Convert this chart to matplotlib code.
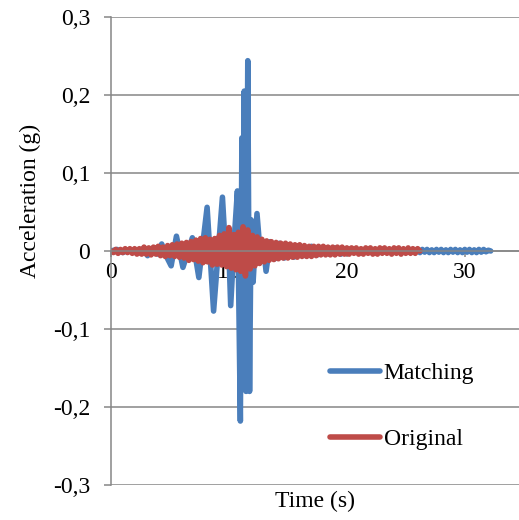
import numpy as np
import matplotlib
matplotlib.use("Agg")
import matplotlib.pyplot as plt

plt.rcParams['font.family'] = ['Liberation Serif', 'DejaVu Serif']
plt.rcParams['font.size'] = 17

# Matching record: extrema (time s, acceleration g)
blue_t = [0.0, 0.5, 1.0, 1.6, 2.2, 2.7, 3.1, 3.6, 3.95, 4.3, 4.8, 5.1, 5.55, 6.1, 6.9, 7.45,
          8.15, 8.7, 9.45, 9.75, 9.95, 10.15, 10.45, 10.72, 10.97, 11.1, 11.18, 11.3, 11.45,
          11.6, 11.75, 11.88, 12.05, 12.38, 12.7, 12.9, 13.15, 13.5, 13.9, 14.3, 14.7, 15.1,
          15.5, 16.0, 16.5, 17.0, 17.5, 18.0, 18.5, 19.0, 19.5, 20.0]
blue_a = [0.0, 0.002, -0.002, 0.002, -0.003, 0.003, -0.006, 0.004, -0.004, 0.009, -0.010, -0.019,
          0.019, -0.021, 0.017, -0.034, 0.056, -0.077, 0.069, -0.010, 0.020, -0.070, 0.015,
          0.077, -0.218, 0.145, -0.120, 0.205, -0.180, 0.244, -0.180, 0.040, -0.040, 0.048,
          -0.012, 0.010, -0.026, 0.012, -0.010, 0.010, -0.009, 0.008, -0.008, 0.007, -0.006,
          0.006, -0.005, 0.005, -0.004, 0.004, -0.004, 0.003]
# tail of the matching record, one value every 0.2 s after 20.2 s
blue_tail_a = [-0.002, 0.002, -0.0015, 0.002, -0.002, 0.0015, -0.002, 0.002, -0.0015, 0.002,
               -0.002, 0.0015, -0.002, 0.002, -0.0015, 0.002, -0.002, 0.0015, -0.002, 0.002,
               -0.0015, 0.002, -0.002, 0.0015, -0.002, 0.002, -0.0015, 0.002, -0.002, 0.0015,
               -0.002, 0.002, -0.0015, 0.002, -0.002, 0.0015, -0.002, 0.002, -0.0015, 0.002,
               -0.002, 0.0015, -0.002, 0.002, -0.0015, 0.002, -0.002, 0.0015, -0.002, 0.002,
               -0.0015, 0.002, -0.002, 0.0015, -0.002, 0.002, -0.0015, 0.002, -0.001, 0.001,
               0.0]
blue_tail_dt = 0.2

# Original record: one extremum every 0.2 s
red_dt = 0.2
red_a = [0.000, -0.002, 0.002, -0.003, 0.002, -0.002, 0.003, -0.002, 0.003, -0.003,
         0.003, -0.004, 0.003, -0.004, 0.005, -0.004, 0.004, -0.005, 0.005, -0.004,
         0.006, -0.006, 0.005, -0.007, 0.007, -0.006, 0.008, -0.007, 0.009, -0.008,
         0.010, -0.009, 0.011, -0.012, 0.012, -0.011, 0.014, -0.013, 0.016, -0.015,
         0.017, -0.014, 0.015, -0.018, 0.016, -0.017, 0.020, -0.018, 0.022, -0.020,
         0.030, -0.022, 0.021, -0.024, 0.024, -0.026, 0.031, -0.032, 0.027, -0.023,
         0.020, -0.019, 0.018, -0.016, 0.015, -0.014, 0.013, -0.012, 0.012, -0.011,
         0.011, -0.010, 0.010, -0.009, 0.010, -0.009, 0.009, -0.008, 0.008, -0.008,
         0.008, -0.007, 0.007, -0.007, 0.006, -0.007, 0.006, -0.006, 0.006, -0.005,
         0.006, -0.005, 0.005, -0.005, 0.005, -0.005, 0.005, -0.004, 0.005, -0.004,
         0.004, -0.004, 0.004, -0.003, 0.004, -0.004, 0.003, -0.004, 0.004, -0.003,
         0.004, -0.004, 0.003, -0.004, 0.004, -0.003, 0.004, -0.003, 0.003, -0.004,
         0.004, -0.003, 0.004, -0.004, 0.003, -0.003, 0.004, -0.003, 0.003, -0.003,
         0.003, 0.0]

y_ticks = [-0.3, -0.2, -0.1, 0, 0.1, 0.2, 0.3]
y_labels = ['-0,3', '-0,2', '-0,1', '0', '0,1', '0,2', '0,3']
x_ticks = [0, 10, 20, 30]

blue_time = list(blue_t) + list(blue_t[-1] + blue_tail_dt * np.arange(1, len(blue_tail_a) + 1))
blue_acc = list(blue_a) + blue_tail_a
red_time = red_dt * np.arange(len(red_a))

fig = plt.figure(figsize=(5.19, 5.20), dpi=100)
ax = fig.add_axes([111 / 519, 35 / 520, 408 / 519, 468 / 520])

grid_col = '#868686'
ax.plot(blue_time, blue_acc, color='#4A7EBB', lw=4, label='Matching',
        solid_joinstyle='round', solid_capstyle='round')
ax.plot(red_time, red_a, color='#BE4B48', lw=4, label='Original',
        solid_joinstyle='round', solid_capstyle='round')

ax.set_xlim(0, 34.6)
ax.set_ylim(-0.3, 0.3)
ax.set_yticks(y_ticks)
ax.set_yticklabels(y_labels)
ax.set_xticks(x_ticks)
ax.yaxis.grid(True, color=grid_col, lw=1.1)
ax.set_axisbelow(True)

for s in ['top', 'right']:
    ax.spines[s].set_visible(False)
ax.spines['bottom'].set_position(('data', 0))
ax.spines['bottom'].set_color(grid_col)
ax.spines['left'].set_color(grid_col)
ax.spines['bottom'].set_linewidth(1.1)
ax.spines['left'].set_linewidth(1.1)
ax.tick_params(axis='y', direction='out', length=5, color=grid_col, pad=10, width=1.1)
ax.tick_params(axis='x', direction='out', length=4, color=grid_col, pad=4, width=1.1)

ax.set_xlabel('Time (s)')
ax.set_ylabel('Acceleration (g)')
ax.xaxis.set_label_coords(0.5, -0.012)
ax.yaxis.set_label_coords(-0.172, 0.607)

leg = ax.legend(loc='center left', bbox_to_anchor=(0.537, 0.168), frameon=False,
                borderpad=0, borderaxespad=0, handlelength=2.1, handletextpad=0.17,
                labelspacing=1.9)
for line in leg.get_lines():
    line.set_linewidth(4)

fig.savefig('out.png', dpi=100)
